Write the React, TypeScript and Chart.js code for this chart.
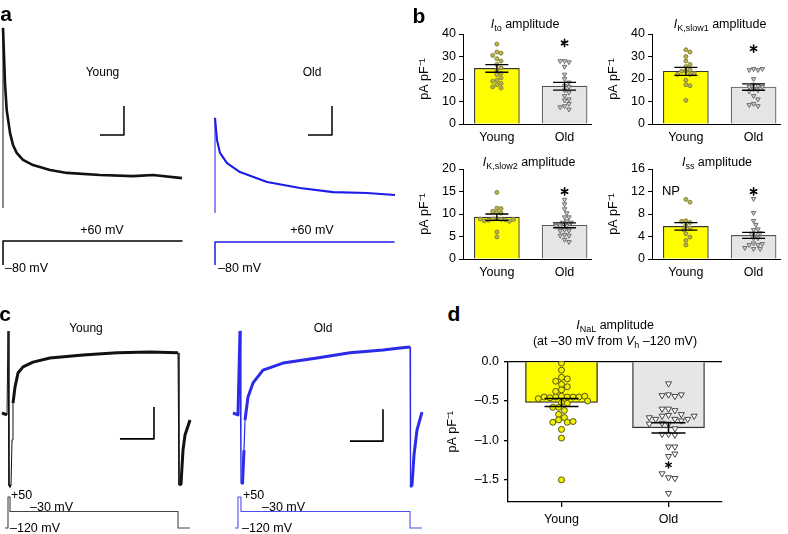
import React, { useEffect, useRef } from 'react';
import { Chart, registerables } from 'chart.js';

Chart.register(...registerables);
const FONT = "'Liberation Sans', Arial, Helvetica, sans-serif";
Chart.defaults.font.family = FONT;
Chart.defaults.font.size = 12;
Chart.defaults.color = '#000';

/* ------------------------------ data ------------------------------ */
const GROUPS = ['Young', 'Old'];
const Y_TITLE = 'pA pF\u207B\u00B9';

// Panel a: outward K+ current traces (t in ms, I in pA/pF) and +60 mV step protocol
const A_YOUNG_T = [0, 0, 8.3, 15.4, 29.2, 41.7, 57.1, 83.3, 125, 195.8, 266.7, 404.2, 541.7, 625, 745.8];
const A_YOUNG_I = [0, 62.1, 43.1, 33.8, 25.9, 21.7, 19.0, 16.6, 14.8, 13.1, 12.1, 11.4, 11.0, 11.4, 10.3];
const A_OLD_T = [0, 0, 8.3, 20.8, 50, 104, 217, 354, 492, 633, 750];
const A_OLD_I = [0, 32.8, 25.2, 20.7, 17.2, 14.1, 10.7, 8.6, 7.2, 6.9, 6.2];
const A_PROTO_T = [0, 0, 748];
const A_PROTO_V = [-80, 60, 60];
const A_YOUNG_SCALE_T = [404, 504, 504];
const A_YOUNG_SCALE_I = [25.2, 25.2, 35.2];
const A_OLD_SCALE_T = [387.5, 487.5, 487.5];
const A_OLD_SCALE_I = [26.9, 26.9, 36.9];

// Panel b: amplitudes (pA/pF)
const ITO_YOUNG = [35.5, 32, 31.5, 30.5, 29, 28, 26.5, 25, 24, 22.5, 22, 20.5, 19.5, 19, 18, 17.5, 16.5, 16];
const ITO_OLD = [28, 27.5, 28, 25.5, 22, 20, 18.5, 17, 16.5, 15, 14, 12.5, 11, 10.5, 9, 8, 7.5, 6.5];
const ITO_MEAN = [24.7, 16.8];
const ITO_SEM = [1.7, 1.7];
const ITO_STAR = 36;
const KS1_YOUNG = [33, 32, 30, 28, 26.5, 25.5, 24, 23.5, 23.5, 22.5, 22, 22, 19.5, 17.5, 17, 10.5];
const KS1_OLD = [24.5, 24, 24, 24.5, 20, 17.5, 17, 16.5, 16.5, 15.5, 15, 14.5, 12.5, 11, 9, 8, 8.5];
const KS1_MEAN = [23.4, 16.4];
const KS1_SEM = [1.8, 1.4];
const KS1_STAR = 33.5;
const KS2_YOUNG = [14.8, 11.3, 11.2, 10.6, 10.4, 10.2, 9, 8.8, 8.9, 8.7, 8.6, 8.4, 8.5, 8.8, 8.9, 6, 4.9];
const KS2_OLD = [13.2, 12.2, 11.1, 10.2, 9.3, 9.3, 8.4, 8.1, 8.1, 7.4, 7.3, 7.4, 6.5, 6.3, 6.3, 5.4, 5.2, 5.2, 4.3, 3.8];
const KS2_MEAN = [9.3, 7.5];
const KS2_SEM = [0.7, 0.55];
const KS2_STAR = 15;
const ISS_YOUNG = [10.6, 10.1, 6.8, 6.5, 6.7, 5.9, 5.5, 5.2, 4.5, 3.9, 3.3, 2.5];
const ISS_OLD = [10.7, 8.2, 6.8, 6.1, 5.2, 5.3, 4.5, 4.5, 4.6, 3.7, 3.7, 2.8, 2.5, 2.5, 2.7, 1.8, 1.8, 2];
const ISS_MEAN = [5.8, 4.2];
const ISS_SEM = [0.65, 0.55];
const ISS_STAR = 12;
const TICKS_40 = [0, 10, 20, 30, 40];
const TICKS_20 = [0, 5, 10, 15, 20];
const TICKS_16 = [0, 4, 8, 12, 16];

// Panel c: late Na+ current traces (t in ms, I in pA/pF) and protocol (mV)
const C_YOUNG_T = [-17.6, -2.9, 0, 2.9, 8.8, 11.8, 14.7, 20.6, 29.4, 44.1, 73.5, 123.5, 220.6, 320.6, 417.6, 500, 502.9, 508.8, 514.7, 520.6, 535.3];
const C_YOUNG_I = [0, -0.06, 2.56, -2.28, -2.28, -0.84, 0.31, 0.81, 1.25, 1.44, 1.59, 1.72, 1.81, 1.88, 1.91, 1.88, -2.25, -2.22, -1.16, -0.69, -0.22];
const C_OLD_T = [-21.2, -6.1, 0, 3.0, 7.6, 12.1, 15.2, 24.2, 39.4, 69.7, 130.3, 233.3, 333.3, 433.3, 484.8, 515.2, 516.7, 521.2, 527.3, 536.4, 551.5];
const C_OLD_I = [0, -0.06, 2.56, -2.19, -2.19, -1.16, -0.22, 0.5, 0.94, 1.34, 1.56, 1.72, 1.88, 1.97, 2.03, 2.06, -2.31, -2.25, -1.31, -0.53, 0.03];
const C_YOUNG_PROTO_T = [-8.8, 0, 0, 5.9, 5.9, 500, 500, 535];
const C_OLD_PROTO_T = [-15.2, -6.1, -6.1, 3, 3, 515.2, 515.2, 551.5];
const C_PROTO_V = [-120, -120, 50, 50, -30, -30, -120, -120];
const C_YOUNG_SCALE_T = [329.4, 429.4, 429.4];
const C_YOUNG_SCALE_I = [-0.81, -0.81, 0.19];
const C_OLD_SCALE_T = [333.3, 433.3, 433.3];
const C_OLD_SCALE_I = [-0.88, -0.88, 0.12];

// Panel d: INaL amplitude (pA/pF)
const NAL_YOUNG = [-0.02, -0.11, -0.2, -0.22, -0.25, -0.29, -0.32, -0.36, -0.38, -0.44, -0.45, -0.45, -0.45, -0.46, -0.45, -0.45, -0.44, -0.47, -0.5, -0.52, -0.53, -0.58, -0.58, -0.62, -0.67, -0.71, -0.74, -0.77, -0.77, -0.76, -0.86, -0.97, -1.5];
const NAL_OLD = [-0.28, -0.42, -0.44, -0.43, -0.42, -0.6, -0.62, -0.6, -0.68, -0.69, -0.67, -0.73, -0.73, -0.73, -0.71, -0.69, -0.75, -0.79, -0.78, -0.79, -0.85, -0.92, -0.93, -0.92, -1.08, -1.08, -1.2, -1.17, -1.47, -1.48, -1.42, -1.67];
const NAL_MEAN = [-0.52, -0.84];
const NAL_SEM = [0.05, 0.065];
const NAL_STAR = -1.31;
const TICKS_NAL = [-1.5, -1, -0.5, 0];

/* ---------------------------- helpers ----------------------------- */
const pts = (xs: number[], ys: number[]) => xs.map((x, i) => ({ x, y: ys[i] }));

function lineDs(xs: number[], ys: number[], color: string, width: number, thin?: number) {
  const ds: any = { type: 'line', data: pts(xs, ys), borderColor: color, borderWidth: width, pointRadius: 0, fill: false, tension: 0, borderJoinStyle: 'round' };
  if (thin) ds.segment = { borderWidth: (c: any) => (Math.abs(c.p1.x - c.p0.x) < 1.2 ? thin : undefined) };
  return ds;
}

function traceChart(box: any, m: any, datasets: any[]) {
  return {
    box,
    build: () => ({
      type: 'line',
      data: { datasets },
      options: {
        responsive: false, animation: false, events: [],
        layout: { padding: 0 },
        plugins: { legend: { display: false }, tooltip: { enabled: false } },
        scales: {
          x: { type: 'linear', display: false, offset: false, min: (box.left - m.px0) / m.ppx, max: (box.left + box.width - m.px0) / m.ppx },
          y: { type: 'linear', display: false, min: (m.py0 - box.top - box.height) / m.ppy, max: (m.py0 - box.top) / m.ppy },
        },
      },
    }),
  };
}

function swarm(values: number[], center: number, pxX: number, pxY: number, diam: number) {
  const placed: { x: number; y: number }[] = [];
  return values.map((v) => {
    const yp = v * pxY;
    let best = 0;
    for (let k = 0; k < 60; k++) {
      const off = (k % 2 === 1 ? 1 : -1) * Math.ceil(k / 2) * (diam / 2);
      if (placed.every((p) => Math.hypot(p.x - off, p.y - yp) >= diam * 0.95)) { best = off; break; }
    }
    placed.push({ x: best, y: yp });
    return { x: center + best / pxX, y: v };
  });
}

function asterisk(ctx: any, x: number, y: number, r: number) {
  ctx.beginPath();
  for (let a = 0; a < 3; a++) {
    const ang = Math.PI / 2 + (a * Math.PI) / 3;
    ctx.moveTo(x + Math.cos(ang) * r, y + Math.sin(ang) * r);
    ctx.lineTo(x - Math.cos(ang) * r, y - Math.sin(ang) * r);
  }
  ctx.stroke();
}

function barChart(s: any) {
  const box = {
    left: s.plot.left - s.yAxisW,
    top: s.plot.top - s.padTop,
    width: s.plot.right + s.padRight - (s.plot.left - s.yAxisW),
    height: s.plot.bottom + s.xAxisH - (s.plot.top - s.padTop),
  };
  const pxX = (s.plot.right - s.plot.left) / (s.xMax - s.xMin);
  const pxY = (s.plot.bottom - s.plot.top) / (s.yMax - s.yMin);
  const errPlugin = {
    id: 'errbars',
    afterDatasetsDraw(chart: any) {
      const { ctx } = chart;
      const x = chart.scales.x, y = chart.scales.y;
      ctx.save();
      ctx.strokeStyle = '#000';
      ctx.lineWidth = s.errW;
      s.means.forEach((m: number, i: number) => {
        const cx = x.getPixelForValue(i);
        const y0 = y.getPixelForValue(m + s.sems[i]);
        const y1 = y.getPixelForValue(m - s.sems[i]);
        ctx.beginPath();
        ctx.moveTo(cx, y0); ctx.lineTo(cx, y1);
        ctx.moveTo(cx - s.capPx / 2, y0); ctx.lineTo(cx + s.capPx / 2, y0);
        ctx.moveTo(cx - s.capPx / 2, y1); ctx.lineTo(cx + s.capPx / 2, y1);
        ctx.stroke();
      });
      ctx.lineWidth = s.starW;
      ctx.lineCap = 'round';
      asterisk(ctx, x.getPixelForValue(1), y.getPixelForValue(s.star), s.starR);
      ctx.restore();
    },
  };
  return {
    box,
    build: () => ({
      type: 'bar',
      data: {
        datasets: [
          { type: 'bar', data: s.means.map((m: number, i: number) => ({ x: i, y: m })), backgroundColor: s.barFill, borderColor: s.barEdge, borderWidth: s.barEdgeW, barThickness: s.barPx, order: 3 },
          { type: 'scatter', data: swarm(s.young, 0, pxX, pxY, s.dotGap), pointStyle: 'circle', pointRadius: s.dotR, backgroundColor: s.youngFill, borderColor: s.youngEdge, borderWidth: 1, order: 1 },
          { type: 'scatter', data: swarm(s.old, 1, pxX, pxY, s.triGap), pointStyle: 'triangle', rotation: 180, pointRadius: s.triR, backgroundColor: s.oldFill, borderColor: s.oldEdge, borderWidth: 1, order: 1 },
        ],
      },
      options: {
        responsive: false, animation: false, events: [],
        layout: { padding: { top: s.padTop, right: s.padRight, left: 0, bottom: 0 } },
        plugins: { legend: { display: false }, tooltip: { enabled: false } },
        scales: {
          x: {
            type: 'linear', min: s.xMin, max: s.xMax, offset: false,
            afterBuildTicks: (sc: any) => { sc.ticks = GROUPS.map((_, i) => ({ value: i })); },
            afterFit: (sc: any) => { sc.height = s.xAxisH; },
            ticks: { callback: (v: any) => GROUPS[v], font: { size: s.xFont }, padding: s.xPad, maxRotation: 0, autoSkip: false, color: '#000' },
            grid: { display: true, offset: false, drawOnChartArea: false, drawTicks: s.xTickLen > 0, tickLength: s.xTickLen, color: '#000', tickColor: '#000', lineWidth: s.axisW },
            border: { display: true, color: '#000', width: s.axisW },
          },
          y: {
            type: 'linear', min: s.yMin, max: s.yMax,
            afterBuildTicks: (sc: any) => { sc.ticks = s.yTicks.map((v: number) => ({ value: v })); },
            afterFit: (sc: any) => { sc.width = s.yAxisW; },
            ticks: { callback: s.fmt, font: { size: s.yFont }, padding: s.yPad, color: '#000' },
            grid: {
              display: true, drawOnChartArea: !!s.zeroLine,
              color: (c: any) => (s.zeroLine ? (c.tick && c.tick.value === 0 ? '#000' : 'rgba(0,0,0,0)') : '#000'),
              tickColor: '#000', drawTicks: true, tickLength: 4, lineWidth: s.axisW,
            },
            border: { display: true, color: '#000', width: s.axisW },
            title: { display: true, text: Y_TITLE, font: { size: s.titleFont }, padding: 0, color: '#000' },
          },
        },
      },
      plugins: [errPlugin],
    }),
  };
}

const B_STYLE = {
  yAxisW: 46, padTop: 12, padRight: 4, xAxisH: 24, xMin: -0.5, xMax: 1.39,
  barPx: 45, capPx: 23, errW: 1.3, dotR: 2, triR: 2.6, dotGap: 4.2, triGap: 4.4,
  barFill: ['#ffff00', '#e5e5e5'], barEdge: ['#333', '#555'], barEdgeW: 1.1,
  youngFill: '#b9b34a', youngEdge: '#8a873c', oldFill: '#d0d0d0', oldEdge: '#6e6e6e',
  xTickLen: 0, xPad: 6, yPad: 3, xFont: 12.5, yFont: 12.5, titleFont: 12.5, axisW: 1,
  starR: 3.6, starW: 1.6, fmt: (v: any) => String(v),
};

const CHARTS = [
  // panel a
  traceChart({ left: 0, top: 20, width: 195, height: 200 }, { px0: 3, ppx: 0.24, py0: 208, ppy: 2.9 }, [
    lineDs(A_YOUNG_T, A_YOUNG_I, '#111', 2.6, 1),
    lineDs(A_YOUNG_SCALE_T, A_YOUNG_SCALE_I, '#000', 1.5),
  ]),
  traceChart({ left: 205, top: 100, width: 195, height: 120 }, { px0: 215, ppx: 0.24, py0: 213, ppy: 2.9 }, [
    lineDs(A_OLD_T, A_OLD_I, '#1c1ce6', 2.1, 1),
    lineDs(A_OLD_SCALE_T, A_OLD_SCALE_I, '#000', 1.5),
  ]),
  traceChart({ left: 0, top: 232, width: 195, height: 40 }, { px0: 3, ppx: 0.24, py0: 251.3, ppy: 0.1714 }, [
    lineDs(A_PROTO_T, A_PROTO_V, '#000', 1.5),
  ]),
  traceChart({ left: 205, top: 232, width: 195, height: 40 }, { px0: 215, ppx: 0.24, py0: 251.9, ppy: 0.1643 }, [
    lineDs(A_PROTO_T, A_PROTO_V, '#1c1ce6', 1.5),
  ]),
  // panel b
  barChart({ ...B_STYLE, plot: { left: 463, top: 34, right: 592, bottom: 124 }, yMin: 0, yMax: 40, yTicks: TICKS_40, young: ITO_YOUNG, old: ITO_OLD, means: ITO_MEAN, sems: ITO_SEM, star: ITO_STAR }),
  barChart({ ...B_STYLE, plot: { left: 652, top: 34, right: 781, bottom: 124 }, yMin: 0, yMax: 40, yTicks: TICKS_40, young: KS1_YOUNG, old: KS1_OLD, means: KS1_MEAN, sems: KS1_SEM, star: KS1_STAR }),
  barChart({ ...B_STYLE, plot: { left: 463, top: 169, right: 592, bottom: 259 }, yMin: 0, yMax: 20, yTicks: TICKS_20, young: KS2_YOUNG, old: KS2_OLD, means: KS2_MEAN, sems: KS2_SEM, star: KS2_STAR }),
  barChart({ ...B_STYLE, plot: { left: 652, top: 169, right: 781, bottom: 259 }, yMin: 0, yMax: 16, yTicks: TICKS_16, young: ISS_YOUNG, old: ISS_OLD, means: ISS_MEAN, sems: ISS_SEM, star: ISS_STAR }),
  // panel c
  traceChart({ left: 0, top: 322, width: 200, height: 170 }, { px0: 8, ppx: 0.34, py0: 413, ppy: 32 }, [
    lineDs(C_YOUNG_T, C_YOUNG_I, '#111', 3, 1),
    lineDs(C_YOUNG_SCALE_T, C_YOUNG_SCALE_I, '#000', 1.6),
  ]),
  traceChart({ left: 228, top: 322, width: 200, height: 170 }, { px0: 240, ppx: 0.33, py0: 413, ppy: 32 }, [
    lineDs(C_OLD_T, C_OLD_I, '#2b2bea', 3, 1.2),
    lineDs(C_OLD_SCALE_T, C_OLD_SCALE_I, '#000', 1.6),
  ]),
  traceChart({ left: 0, top: 490, width: 200, height: 44 }, { px0: 8, ppx: 0.34, py0: 506.1, ppy: 0.1824 }, [
    lineDs(C_YOUNG_PROTO_T, C_PROTO_V, '#444', 1.1),
  ]),
  traceChart({ left: 228, top: 490, width: 200, height: 44 }, { px0: 240, ppx: 0.33, py0: 506.1, ppy: 0.1824 }, [
    lineDs(C_OLD_PROTO_T, C_PROTO_V, '#4f4ff0', 1.1),
  ]),
  // panel d
  barChart({
    plot: { left: 508, top: 359, right: 722, bottom: 502 },
    yAxisW: 63, padTop: 10, padRight: 6, xAxisH: 30, xMin: -0.5, xMax: 1.5,
    yMin: -1.78, yMax: 0, yTicks: TICKS_NAL,
    fmt: (v: any) => (v === 0 ? '0.0' : '\u2013' + Math.abs(v).toFixed(1)),
    young: NAL_YOUNG, old: NAL_OLD, means: NAL_MEAN, sems: NAL_SEM, star: NAL_STAR,
    barPx: 72, capPx: 34, errW: 1.5, dotR: 3, triR: 3.5, dotGap: 5.8, triGap: 6.4,
    barFill: ['#ffff00', '#e6e6e6'], barEdge: ['#222', '#333'], barEdgeW: 1.3,
    youngFill: '#f2f200', youngEdge: '#55550a', oldFill: '#ffffff', oldEdge: '#444',
    xTickLen: 5, xPad: 5, yPad: 5, xFont: 12.5, yFont: 12.5, titleFont: 12.5, axisW: 1.3,
    starR: 3.2, starW: 1.4, zeroLine: true,
  }),
];

/* --------------------------- components --------------------------- */
function ChartBox({ box, build }: any) {
  const ref = useRef<HTMLCanvasElement>(null);
  useEffect(() => {
    const chart = new Chart(ref.current as HTMLCanvasElement, build());
    return () => chart.destroy();
  }, []);
  return (
    <canvas ref={ref} width={box.width} height={box.height}
      style={{ position: 'absolute', left: box.left, top: box.top, width: box.width, height: box.height }} />
  );
}

function Txt({ x, y, children, size = 12.5, align = 'center', bold = false }: any) {
  const tx = align === 'center' ? '-50%' : align === 'right' ? '-100%' : '0';
  return (
    <div style={{ position: 'absolute', left: x, top: y, transform: `translate(${tx}, -50%)`, fontSize: size, fontWeight: bold ? 700 : 400, lineHeight: 1, whiteSpace: 'nowrap' }}>
      {children}
    </div>
  );
}

const Sub = ({ children }: any) => (
  <sub style={{ fontSize: '0.72em', verticalAlign: '-0.35em', lineHeight: 0 }}>{children}</sub>
);

export default function App() {
  return (
    <div style={{ position: 'absolute', left: 0, top: 0, width: 788, height: 534, background: '#fff', overflow: 'hidden', fontFamily: FONT, color: '#000' }}>
      {CHARTS.map((c, i) => <ChartBox key={i} box={c.box} build={c.build} />)}

      <Txt x={6} y={13} size={21} bold>a</Txt>
      <Txt x={419} y={15} size={21} bold>b</Txt>
      <Txt x={5} y={313} size={21} bold>c</Txt>
      <Txt x={454} y={313} size={21} bold>d</Txt>

      {/* panel a */}
      <Txt x={102.5} y={72} size={12}>Young</Txt>
      <Txt x={312} y={72} size={12}>Old</Txt>
      <Txt x={102} y={230} size={12.5}>+60 mV</Txt>
      <Txt x={312} y={230} size={12.5}>+60 mV</Txt>
      <Txt x={5} y={268} size={12.5} align="left">{'\u201380 mV'}</Txt>
      <Txt x={218} y={268} size={12.5} align="left">{'\u201380 mV'}</Txt>

      {/* panel b titles */}
      <Txt x={525} y={24}><i>I</i><Sub>to</Sub> amplitude</Txt>
      <Txt x={720} y={24}><i>I</i><Sub>K,slow1</Sub> amplitude</Txt>
      <Txt x={529} y={162}><i>I</i><Sub>K,slow2</Sub> amplitude</Txt>
      <Txt x={717} y={162}><i>I</i><Sub>ss</Sub> amplitude</Txt>
      <Txt x={671} y={190} size={13}>NP</Txt>

      {/* panel c */}
      <Txt x={86} y={328} size={12}>Young</Txt>
      <Txt x={323} y={328} size={12}>Old</Txt>
      <Txt x={11} y={495} size={12.5} align="left">+50</Txt>
      <Txt x={30} y={507} size={12.5} align="left">{'\u201330 mV'}</Txt>
      <Txt x={10} y={528} size={12.5} align="left">{'\u2013120 mV'}</Txt>
      <Txt x={243} y={495} size={12.5} align="left">+50</Txt>
      <Txt x={262} y={507} size={12.5} align="left">{'\u201330 mV'}</Txt>
      <Txt x={242} y={528} size={12.5} align="left">{'\u2013120 mV'}</Txt>

      {/* panel d title */}
      <Txt x={615} y={325}><i>I</i><Sub>NaL</Sub> amplitude</Txt>
      <Txt x={615} y={341}>(at {'\u2013'}30 mV from <i>V</i><Sub>h</Sub> {'\u2013'}120 mV)</Txt>
    </div>
  );
}
